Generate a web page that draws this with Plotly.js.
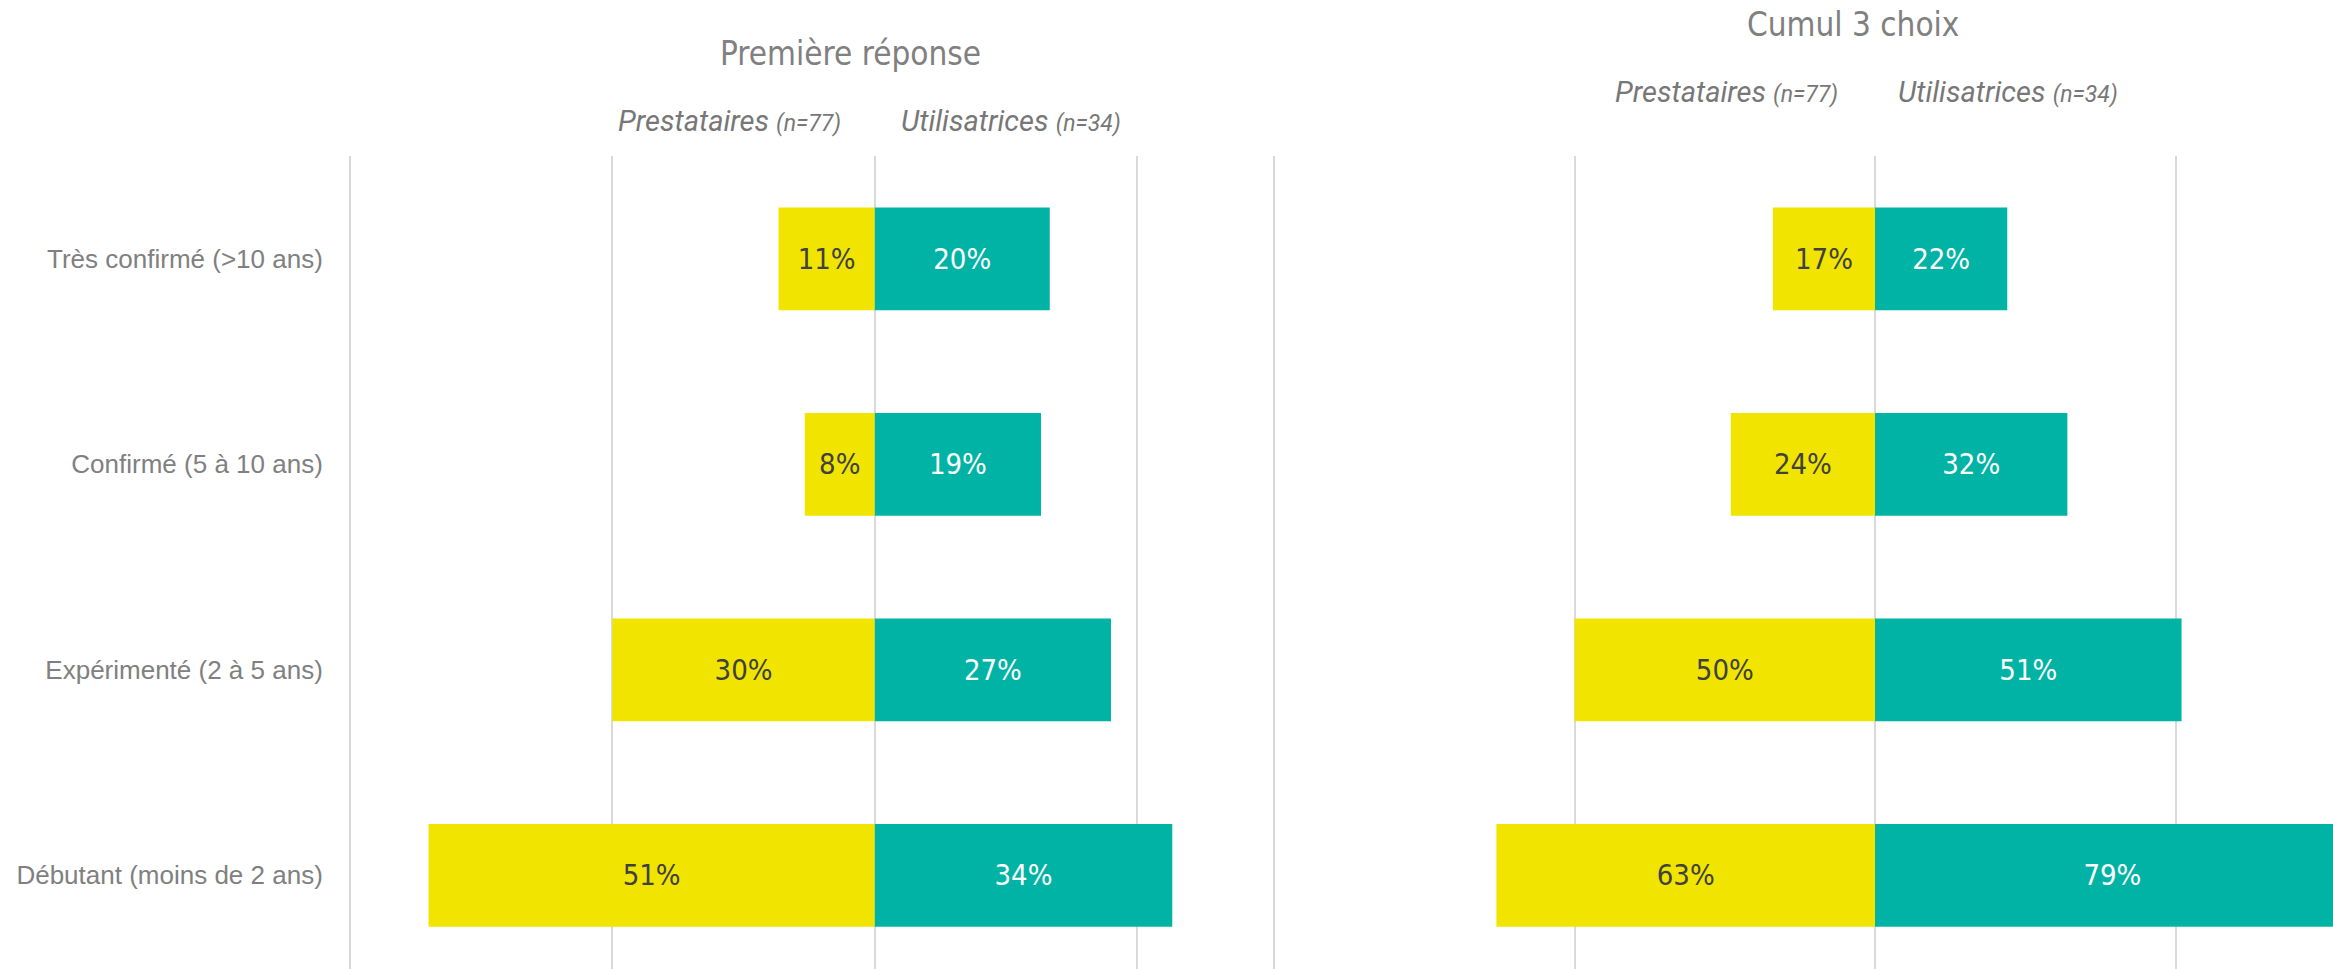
<!DOCTYPE html>
<html>
<head>
<meta charset="utf-8">
<script src="https://cdn.plot.ly/plotly-3.0.1.min.js"></script>
<style>html,body{margin:0;padding:0;background:#fff;}#chart{width:2333px;height:969px;}</style>
</head>
<body>
<div id="chart"></div>
<script>
const categories = ["Très confirmé (>10 ans)", "Confirmé (5 à 10 ans)", "Expérimenté (2 à 5 ans)", "Débutant (moins de 2 ans)"];
const premPrestataires = [11, 8, 30, 51];
const premUtilisatrices = [20, 19, 27, 34];
const cumulPrestataires = [17, 24, 50, 63];
const cumulUtilisatrices = [22, 32, 51, 79];
const leftTicks = [-60, -30, 0, 30];
const rightTicks = [-100, -50, 0, 50, 100];

const W = 2333, H = 969, T = 156;
const px = v => v / W;
const py = v => (H - v) / (H - T);

const YEL = '#F1E500', TEAL = '#00B3A4';
const condFont = '"Liberation Sans Narrow", "DejaVu Sans Condensed", "Arial Narrow", sans-serif';
const pct = a => a.map(v => v + '%');

function bar(vals, sign, color, tcol, xa) {
  return {
    type: 'bar', orientation: 'h', y: categories, x: vals.map(v => sign * v),
    xaxis: xa, yaxis: 'y',
    marker: {color: color, line: {width: 0}},
    text: pct(vals), textposition: 'inside', insidetextanchor: 'middle',
    textfont: {family: condFont, size: 29, color: tcol},
    constraintext: 'none', hoverinfo: 'skip', showlegend: false, cliponaxis: true
  };
}

const data = [
  bar(premPrestataires, -1, YEL, '#404040', 'x'),
  bar(premUtilisatrices, 1, TEAL, '#ffffff', 'x'),
  bar(cumulPrestataires, -1, YEL, '#404040', 'x2'),
  bar(cumulUtilisatrices, 1, TEAL, '#ffffff', 'x2')
];

const sub = (a, b) => '<i>' + a + ' <span style="font-size:23px">' + b + '</span></i>';
const subFont = {family: 'Roboto, sans-serif', size: 29, color: '#777777'};
const titleFont = {family: condFont, size: 33, color: '#808080'};

const layout = {
  width: W, height: H,
  margin: {l: 0, r: 0, t: T, b: 0, pad: 0},
  paper_bgcolor: '#fff', plot_bgcolor: 'rgba(0,0,0,0)',
  barmode: 'relative', bargap: 0.5,
  xaxis: {
    domain: [px(345), px(1270)], range: [-60.55, 45.17],
    tickvals: leftTicks, showticklabels: false, showgrid: true,
    gridcolor: '#d9d9d9', gridwidth: 2, zeroline: true, zerolinecolor: '#d9d9d9', zerolinewidth: 2,
    showline: false, fixedrange: true, anchor: 'y'
  },
  xaxis2: {
    domain: [px(1270), 1], range: [-100.67, 76.2],
    tickvals: rightTicks, showticklabels: false, showgrid: true,
    gridcolor: '#d9d9d9', gridwidth: 2, zeroline: true, zerolinecolor: '#d9d9d9', zerolinewidth: 2,
    showline: false, fixedrange: true, anchor: 'y'
  },
  yaxis: {
    type: 'category', categoryorder: 'array', categoryarray: categories,
    range: [3.456, -0.5], showgrid: false, zeroline: false, showline: false,
    ticks: 'outside', ticklen: 16, tickcolor: 'rgba(0,0,0,0)',
    tickfont: {family: '"Liberation Sans", Arial, sans-serif', size: 26, color: '#808080'},
    anchor: 'x', fixedrange: true
  },
  annotations: [
    {text: 'Première réponse', xref: 'paper', yref: 'paper', x: px(850), y: py(54), xanchor: 'center', yanchor: 'middle', showarrow: false, font: titleFont},
    {text: 'Cumul 3 choix', xref: 'paper', yref: 'paper', x: px(1853), y: py(25), xanchor: 'center', yanchor: 'middle', showarrow: false, font: titleFont},
    {text: sub('Prestataires', '(n=77)'), xref: 'paper', yref: 'paper', x: px(843), y: py(121), xanchor: 'right', yanchor: 'middle', showarrow: false, font: subFont},
    {text: sub('Utilisatrices', '(n=34)'), xref: 'paper', yref: 'paper', x: px(899), y: py(121), xanchor: 'left', yanchor: 'middle', showarrow: false, font: subFont},
    {text: sub('Prestataires', '(n=77)'), xref: 'paper', yref: 'paper', x: px(1840), y: py(92), xanchor: 'right', yanchor: 'middle', showarrow: false, font: subFont},
    {text: sub('Utilisatrices', '(n=34)'), xref: 'paper', yref: 'paper', x: px(1896), y: py(92), xanchor: 'left', yanchor: 'middle', showarrow: false, font: subFont}
  ]
};

Plotly.newPlot('chart', data, layout, {displayModeBar: false, staticPlot: true});
</script>
</body>
</html>
